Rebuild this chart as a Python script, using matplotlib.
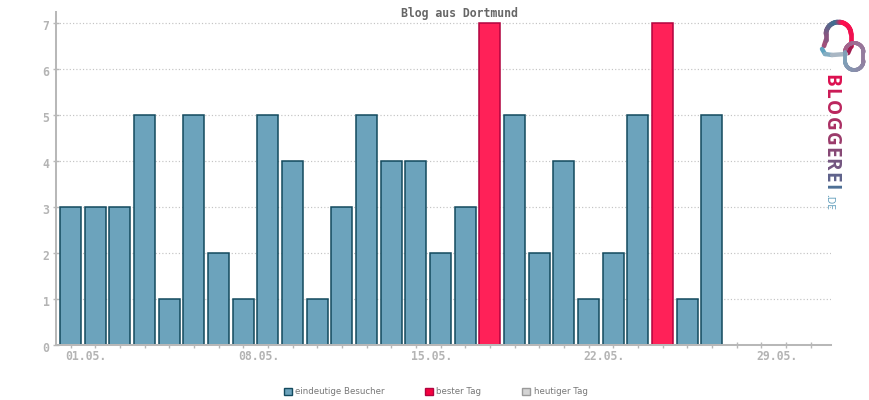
import matplotlib
matplotlib.use("Agg")
import matplotlib.pyplot as plt
import matplotlib.patches as mpatches
from matplotlib.collections import LineCollection
from matplotlib.colors import LinearSegmentedColormap
from matplotlib.transforms import ScaledTranslation
import numpy as np

# ── Data ──────────────────────────────────────────────────────────────────────
days = [f"{d:02d}.05." for d in range(1, 32)]
visitors = [3, 3, 3, 5, 1, 5, 2, 1, 5, 4, 1, 3, 5, 4, 4, 2, 3, 7, 5, 2, 4, 1, 2, 5, 7, 1, 5]
best_days = ["18", "25"]
label_days = ["01.05.", "08.05.", "15.05.", "22.05.", "29.05."]
y_ticks = [0, 1, 2, 3, 4, 5, 6, 7]

# ── Palette ───────────────────────────────────────────────────────────────────
CLR_BAR = "#6ca3bc"
CLR_BAR_EDGE = "#134a5e"
CLR_BEST = "#ff2158"
CLR_BEST_EDGE = "#b2033f"
CLR_AXIS = "#b8b8b8"
CLR_GRID = "#c4c4c4"
W, H = 870, 400


def gradient_line(ax, pts, c0, c1, lw):
    """Thick line with a colour gradient along its length."""
    pts = np.asarray(pts)
    segs = np.stack([pts[:-1], pts[1:]], axis=1)
    cmap = LinearSegmentedColormap.from_list("g", [c0, c1])
    lc = LineCollection(segs, colors=cmap(np.linspace(0, 1, len(segs))),
                        linewidths=lw, capstyle="round")
    ax.add_collection(lc)


def rounded_loop(x0, x1, y0, y1, n=60):
    r = (x1 - x0) / 2
    t = np.linspace(np.pi, 0, n)
    top = np.c_[x0 + r + r * np.cos(t), y0 + r - r * np.sin(t)]
    t2 = np.linspace(0, -np.pi, n)
    bot = np.c_[x0 + r + r * np.cos(t2), y1 - r - r * np.sin(t2)]
    return np.vstack([top, bot, top[:1]])


def draw_logo(fig):
    lax = fig.add_axes([0, 0, 1, 1], zorder=5)
    lax.set_xlim(0, W)
    lax.set_ylim(H, 0)
    lax.axis("off")

    # speech bubble and ring
    t = np.linspace(np.pi, 0, 40)
    arc = np.c_[838.5 + 12.5 * np.cos(t), 34 - 12 * np.sin(t)]
    gradient_line(lax, [[824, 46], [826, 40], [826, 34]], "#a0507a", "#8a5580", 3.4)
    gradient_line(lax, arc[:18], "#8a5580", "#3f6f92", 3.4)
    gradient_line(lax, arc[17:26], "#3f6f92", "#ff0f4f", 3.4)
    gradient_line(lax, arc[25:], "#ff0f4f", "#f0104f", 3.4)
    gradient_line(lax, [[851, 34], [851, 46], [848, 53]], "#f0104f", "#a01c50", 3.4)
    gradient_line(lax, [[822, 49], [825, 54], [832, 55], [846, 54]], "#5fa3bf", "#a9b7c4", 3.2)
    ring = rounded_loop(845, 863.5, 43, 70)
    gradient_line(lax, ring, "#a95a85", "#7fa0b8", 2.8)

    # brand name, one rotated letter at a time
    renderer = fig.canvas.get_renderer()
    letters = "BLOGGEREI"
    cmap = LinearSegmentedColormap.from_list("b", ["#dc0f4f", "#9a3a6a", "#4c6f95"])
    y = 74.5
    for i, ch in enumerate(letters):
        txt = lax.text(830.5, y, ch, rotation=-90, ha="center", va="top",
                       fontsize=13.6, family="Open Sans", fontweight="bold",
                       color=cmap(i / (len(letters) - 1)))
        y = y + txt.get_window_extent(renderer).height + 1.2
    lax.text(829, 194, ".DE", rotation=-90, ha="center", va="top",
             fontsize=7.5, family="Open Sans", color="#5f9dbb")


def build_figure():
    fig = plt.figure(figsize=(W / 100, H / 100), dpi=100, facecolor="white")
    ax = fig.add_axes([56 / W, (H - 345) / H, (831 - 56) / W, (345 - 12) / H])

    x = np.arange(len(days))
    fills = [CLR_BEST if days[i][:2] in best_days else CLR_BAR for i in x]
    edges = [CLR_BEST_EDGE if days[i][:2] in best_days else CLR_BAR_EDGE for i in x]
    bars = ax.bar(x[:len(visitors)], visitors, width=0.85, color=fills[:len(visitors)],
                  edgecolor=edges[:len(visitors)], linewidth=1.1, zorder=2)
    for b in bars:
        b.set_clip_on(False)

    ax.set_xlim(-0.588, 30.83)
    ax.set_ylim(0, 7.23)
    ax.set_xticks(x)
    ax.set_xticklabels([d if d in label_days else "" for d in days],
                       family="DejaVu Sans Mono", fontsize=8.3, color="#b4b4b4",
                       fontweight="bold", ha="left")
    ax.set_yticks(y_ticks)
    ax.set_yticklabels(y_ticks, family="DejaVu Sans Mono", fontsize=8.3,
                       color="#b4b4b4", fontweight="bold")
    ax.tick_params(axis="x", direction="inout", length=4.5, width=1, color=CLR_AXIS, pad=1)
    ax.tick_params(axis="y", direction="inout", length=4.5, width=1, color=CLR_AXIS, pad=2.5)

    # labels sit a little off their ticks, set after tick_params which resets transforms
    for lab in ax.get_xticklabels():
        lab.set_transform(lab.get_transform() + ScaledTranslation(-5 / 100, 0, fig.dpi_scale_trans))
    for lab in ax.get_yticklabels():
        lab.set_transform(lab.get_transform() + ScaledTranslation(0, -2 / 100, fig.dpi_scale_trans))

    ax.grid(axis="y", color=CLR_GRID, linewidth=0.85, linestyle=(0, (1, 1.8)), zorder=0)
    ax.set_axisbelow(True)

    for side in ("top", "right"):
        ax.spines[side].set_visible(False)
    for side in ("left", "bottom"):
        ax.spines[side].set_color(CLR_AXIS)
        ax.spines[side].set_linewidth(1.45)
        ax.spines[side].set_zorder(4)

    fig.text(459 / W, 1 - 13 / H, "Blog aus Dortmund", ha="center", va="center",
             family="DejaVu Sans Mono", fontsize=8.3, fontweight="bold", color="#666666")

    handles = [
        mpatches.Patch(facecolor=CLR_BAR, edgecolor=CLR_BAR_EDGE, label="eindeutige Besucher"),
        mpatches.Patch(facecolor="#f5023f", edgecolor=CLR_BEST_EDGE, label="bester Tag"),
        mpatches.Patch(facecolor="#d4d4d4", edgecolor="#9a9a9a", label="heutiger Tag"),
    ]
    fig.legend(handles=handles, ncol=3, loc="center", bbox_to_anchor=(435.5 / W, 1 - 392 / H),
               frameon=False, fontsize=6.2, labelcolor="#777777", handlelength=0.95,
               handleheight=0.95, handletextpad=0.35, columnspacing=4.75, borderpad=0)

    draw_logo(fig)
    return fig


if __name__ == "__main__":
    fig = build_figure()
    fig.savefig("out.png", dpi=100, facecolor="white")
